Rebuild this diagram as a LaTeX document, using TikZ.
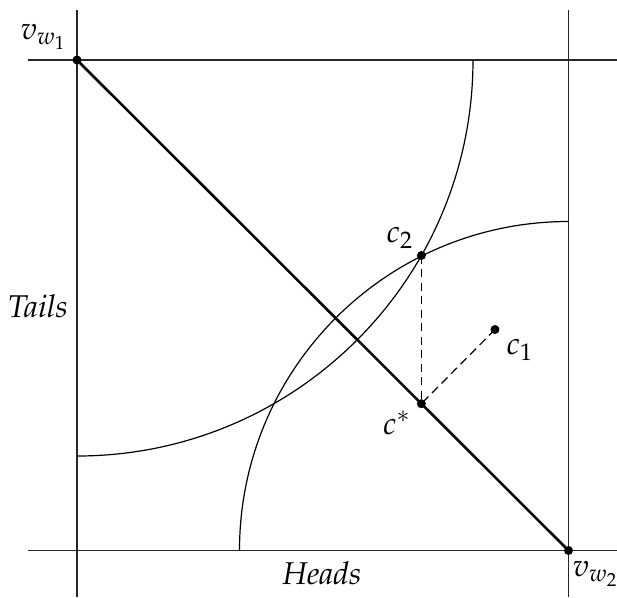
\documentclass[tikz,border=0pt]{standalone}
\usepackage[T1]{fontenc}
\usepackage{mathpazo}
\begin{document}
\begin{tikzpicture}[x=0.3333pt,y=-0.3333pt,
  frame/.style={line width=0.45pt, draw=black!85},
  circ/.style={line width=0.4pt},
  diag/.style={line width=0.85pt},
  dashline/.style={line width=0.4pt, dash pattern=on 2.8pt off 1.7pt},
  dot/.style={circle, fill=black, inner sep=0pt, minimum size=3pt},
  lbl/.style={inner sep=0pt, font=\fontsize{10.5}{12.5}\selectfont}]
\useasboundingbox (0,0) rectangle (617,597);
% frame lines
\draw[frame] (77,10) -- (77,597);
\draw[frame] (568.5,10) -- (568.5,597);
\draw[frame] (28,60) -- (617,60);
\draw[frame] (28,550.5) -- (617,550.5);
% points
\coordinate (vw1) at (77,60);
\coordinate (vw2) at (568.5,550.5);
\coordinate (c2) at (421.4,255.5);
\coordinate (cs) at (421.4,403.7);
\coordinate (c1) at (495,329.5);
% arcs
\draw[circ] (473,60) arc[start angle=0, end angle=90, radius=396];
\draw[circ] (239.5,550.5) arc[start angle=180, end angle=270, radius=329];
% diagonal
\draw[diag] (vw1) -- (vw2);
% dashed
\draw[dashline] (c2) -- (cs);
\draw[dashline] (c1) -- (cs);
% dots
\node[dot] (d1) at (vw1) {};
\node[dot] (d2) at (vw2) {};
\node[dot] (d3) at (c2) {};
\node[dot] (d4) at (cs) {};
\node[dot] (d5) at (c1) {};
% labels
\node[lbl] (l1) at (44,37) {$v_{w_1}$};
\node[lbl] (l2) at (596,574) {$v_{w_2}$};
\node[lbl] (l3) at (400,238) {$c_2$};
\node[lbl] (l4) at (520,350) {$c_1$};
\node[lbl] (l5) at (397,423) {$c^*$};
\node[lbl] (l6) at (38,306) {\textit{Tails}};
\node[lbl] (l7) at (322,573) {\textit{Heads}};
\end{tikzpicture}
\end{document}
